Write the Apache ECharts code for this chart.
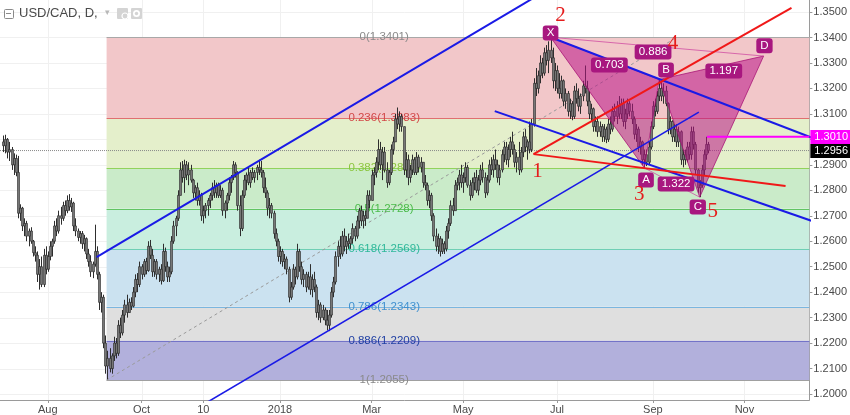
<!DOCTYPE html>
<html><head><meta charset="utf-8">
<script src="https://cdn.jsdelivr.net/npm/echarts@6/dist/echarts.min.js"></script>
<style>html,body{margin:0;padding:0;background:#fff}#c{width:850px;height:415px}</style>
</head><body><div id="c"></div><script>
// ---- DATA (bar index 0 = 1 Aug 2017, daily bars) ----
const firstIndex = -21;
const opens = [
1.2990,1.2975,1.3000,1.2950,1.2960,1.2900,1.2925,1.2870,1.2710,1.2730,
1.2660,1.2670,1.2620,1.2640,1.2600,1.2555,1.2545,1.2470,1.2500,1.2430,
1.2545,1.2490,1.2540,1.2580,1.2600,1.2660,1.2640,1.2700,1.2690,1.2740,
1.2720,1.2760,1.2735,1.2750,1.2660,1.2640,1.2615,1.2630,1.2590,1.2610,
1.2550,1.2520,1.2480,1.2510,1.2560,1.2470,1.2360,1.2380,1.2200,1.2110,
1.2140,1.2100,1.2150,1.2200,1.2160,1.2270,1.2240,1.2310,1.2350,1.2320,
1.2360,1.2345,1.2400,1.2450,1.2430,1.2500,1.2470,1.2520,1.2485,1.2580,
1.2545,1.2480,1.2520,1.2470,1.2490,1.2445,1.2560,1.2500,1.2460,1.2480,
1.2600,1.2660,1.2690,1.2780,1.2880,1.2850,1.2900,1.2860,1.2880,1.2840,
1.2790,1.2810,1.2760,1.2780,1.2700,1.2720,1.2740,1.2760,1.2780,1.2810,
1.2790,1.2820,1.2780,1.2800,1.2720,1.2750,1.2780,1.2830,1.2850,1.2900,
1.2870,1.2740,1.2650,1.2780,1.2840,1.2860,1.2830,1.2870,1.2850,1.2870,
1.2890,1.2880,1.2870,1.2810,1.2790,1.2730,1.2740,1.2710,1.2630,1.2600,
1.2540,1.2560,1.2520,1.2530,1.2490,1.2380,1.2420,1.2490,1.2460,1.2560,
1.2500,1.2450,1.2470,1.2420,1.2460,1.2410,1.2450,1.2420,1.2320,1.2350,
1.2300,1.2330,1.2290,1.2270,1.2310,1.2400,1.2440,1.2540,1.2580,1.2550,
1.2620,1.2580,1.2600,1.2590,1.2610,1.2650,1.2620,1.2680,1.2720,1.2680,
1.2700,1.2690,1.2780,1.2760,1.2860,1.2870,1.2910,1.2960,1.2900,1.2950,
1.2880,1.2830,1.2870,1.2960,1.2990,1.3080,1.3060,1.3090,1.3050,1.2880,
1.2920,1.2850,1.2880,1.2920,1.2870,1.2930,1.2890,1.2910,1.2830,1.2820,
1.2760,1.2780,1.2700,1.2620,1.2580,1.2610,1.2560,1.2590,1.2570,1.2640,
1.2670,1.2740,1.2720,1.2820,1.2830,1.2860,1.2830,1.2850,1.2890,1.2820,
1.2780,1.2830,1.2850,1.2800,1.2840,1.2880,1.2850,1.2790,1.2840,1.2900,
1.2880,1.2920,1.2900,1.2850,1.2880,1.2940,1.2970,1.2920,1.2960,1.2990,
1.2960,1.2910,1.2930,1.2880,1.2950,1.3010,1.2970,1.2990,1.2960,1.3060,
1.3220,1.3200,1.3250,1.3300,1.3260,1.3340,1.3310,1.3350,1.3320,1.3230,
1.3270,1.3200,1.3180,1.3230,1.3150,1.3180,1.3110,1.3140,1.3090,1.3190,
1.3160,1.3130,1.3170,1.3210,1.3200,1.3150,1.3100,1.3120,1.3050,1.3070,
1.3030,1.3050,1.3010,1.3040,1.3000,1.3060,1.3040,1.3110,1.3090,1.3130,
1.3100,1.3140,1.3070,1.3100,1.3140,1.3110,1.3080,1.3020,1.3040,1.2970,
1.2990,1.2920,1.2940,1.2910,1.2970,1.3050,1.3130,1.3110,1.3170,1.3200,
1.3170,1.3190,1.3140,1.3040,1.3070,1.3010,1.3040,1.2990,1.3030,1.2920,
1.2940,1.2920,1.2970,1.2940,1.3030,1.2980,1.2880,1.2810,1.2820,1.2880,
1.2940,1.2980];
const highs = [
1.3015,1.3018,1.3005,1.2990,1.2970,1.2945,1.2940,1.2935,1.2745,1.2735,
1.2690,1.2680,1.2650,1.2655,1.2605,1.2580,1.2560,1.2530,1.2540,1.2570,
1.2580,1.2560,1.2600,1.2610,1.2680,1.2690,1.2720,1.2735,1.2755,1.2760,
1.2780,1.2785,1.2770,1.2755,1.2690,1.2650,1.2640,1.2640,1.2625,1.2615,
1.2570,1.2545,1.2520,1.2665,1.2580,1.2480,1.2400,1.2390,1.2230,1.2170,
1.2180,1.2160,1.2225,1.2220,1.2290,1.2300,1.2330,1.2370,1.2390,1.2375,
1.2380,1.2420,1.2470,1.2475,1.2520,1.2510,1.2530,1.2535,1.2600,1.2605,
1.2570,1.2530,1.2530,1.2500,1.2510,1.2590,1.2575,1.2520,1.2500,1.2620,
1.2680,1.2700,1.2800,1.2910,1.2915,1.2920,1.2915,1.2910,1.2900,1.2845,
1.2820,1.2830,1.2800,1.2790,1.2740,1.2750,1.2770,1.2790,1.2830,1.2840,
1.2830,1.2830,1.2820,1.2810,1.2760,1.2790,1.2850,1.2860,1.2915,1.2910,
1.2875,1.2780,1.2800,1.2860,1.2870,1.2890,1.2880,1.2890,1.2880,1.2900,
1.2920,1.2915,1.2880,1.2850,1.2800,1.2770,1.2750,1.2720,1.2650,1.2610,
1.2580,1.2570,1.2550,1.2540,1.2500,1.2440,1.2510,1.2500,1.2590,1.2570,
1.2520,1.2490,1.2480,1.2480,1.2510,1.2470,1.2480,1.2430,1.2370,1.2360,
1.2350,1.2340,1.2330,1.2330,1.2420,1.2460,1.2560,1.2600,1.2620,1.2640,
1.2650,1.2620,1.2630,1.2620,1.2670,1.2660,1.2700,1.2730,1.2740,1.2720,
1.2720,1.2800,1.2800,1.2880,1.2890,1.2930,1.3000,1.2990,1.2970,1.2970,
1.2910,1.2880,1.2980,1.3010,1.3100,1.3125,1.3110,1.3100,1.3050,1.2950,
1.2940,1.2900,1.2940,1.2930,1.2950,1.2940,1.2930,1.2910,1.2860,1.2830,
1.2800,1.2790,1.2710,1.2650,1.2630,1.2620,1.2610,1.2600,1.2660,1.2690,
1.2760,1.2770,1.2840,1.2850,1.2880,1.2900,1.2870,1.2910,1.2900,1.2840,
1.2850,1.2870,1.2880,1.2860,1.2900,1.2910,1.2870,1.2860,1.2920,1.2930,
1.2940,1.2960,1.2920,1.2900,1.2960,1.2990,1.2990,1.2980,1.3010,1.3030,
1.2980,1.2950,1.2990,1.2970,1.3030,1.3040,1.3000,1.3070,1.3080,1.3240,
1.3280,1.3270,1.3330,1.3320,1.3360,1.3370,1.3385,1.3401,1.3360,1.3300,
1.3290,1.3260,1.3250,1.3235,1.3200,1.3190,1.3160,1.3150,1.3210,1.3220,
1.3200,1.3180,1.3230,1.3290,1.3230,1.3190,1.3140,1.3125,1.3090,1.3090,
1.3070,1.3060,1.3060,1.3050,1.3080,1.3090,1.3130,1.3140,1.3150,1.3170,
1.3160,1.3160,1.3120,1.3160,1.3150,1.3140,1.3090,1.3060,1.3050,1.3010,
1.2995,1.2960,1.2960,1.2990,1.3070,1.3150,1.3160,1.3190,1.3235,1.3230,
1.3220,1.3210,1.3145,1.3090,1.3075,1.3060,1.3060,1.3050,1.3035,1.2960,
1.2960,1.2990,1.2990,1.3050,1.3050,1.2990,1.2885,1.2840,1.2900,1.2960,
1.3010,1.2990];
const lows = [
1.2950,1.2945,1.2925,1.2915,1.2880,1.2860,1.2855,1.2690,1.2680,1.2640,
1.2620,1.2600,1.2580,1.2590,1.2540,1.2520,1.2440,1.2410,1.2420,1.2420,
1.2470,1.2480,1.2525,1.2540,1.2590,1.2620,1.2630,1.2665,1.2680,1.2700,
1.2710,1.2720,1.2715,1.2640,1.2620,1.2600,1.2590,1.2570,1.2560,1.2530,
1.2500,1.2460,1.2455,1.2500,1.2450,1.2330,1.2320,1.2180,1.2080,1.2058,
1.2085,1.2080,1.2130,1.2140,1.2150,1.2220,1.2230,1.2280,1.2300,1.2320,
1.2330,1.2340,1.2380,1.2400,1.2420,1.2450,1.2460,1.2470,1.2480,1.2530,
1.2460,1.2460,1.2450,1.2440,1.2430,1.2440,1.2480,1.2440,1.2440,1.2470,
1.2590,1.2620,1.2680,1.2780,1.2830,1.2790,1.2840,1.2820,1.2830,1.2770,
1.2760,1.2740,1.2740,1.2680,1.2670,1.2690,1.2700,1.2730,1.2760,1.2770,
1.2770,1.2770,1.2770,1.2700,1.2690,1.2720,1.2760,1.2790,1.2840,1.2850,
1.2720,1.2620,1.2640,1.2770,1.2800,1.2820,1.2810,1.2840,1.2830,1.2840,
1.2860,1.2850,1.2790,1.2770,1.2700,1.2690,1.2690,1.2610,1.2580,1.2520,
1.2510,1.2500,1.2490,1.2470,1.2360,1.2370,1.2410,1.2430,1.2450,1.2480,
1.2430,1.2420,1.2400,1.2410,1.2390,1.2380,1.2400,1.2300,1.2290,1.2280,
1.2290,1.2270,1.2250,1.2247,1.2300,1.2380,1.2430,1.2500,1.2530,1.2540,
1.2560,1.2550,1.2570,1.2570,1.2590,1.2600,1.2610,1.2650,1.2660,1.2650,
1.2660,1.2690,1.2730,1.2760,1.2820,1.2850,1.2880,1.2880,1.2840,1.2870,
1.2810,1.2820,1.2860,1.2940,1.2990,1.3040,1.3030,1.3030,1.2860,1.2850,
1.2820,1.2830,1.2860,1.2860,1.2860,1.2870,1.2870,1.2810,1.2800,1.2740,
1.2730,1.2680,1.2600,1.2560,1.2550,1.2540,1.2550,1.2550,1.2560,1.2610,
1.2660,1.2700,1.2720,1.2800,1.2800,1.2810,1.2790,1.2830,1.2810,1.2760,
1.2770,1.2800,1.2790,1.2780,1.2820,1.2830,1.2770,1.2780,1.2830,1.2860,
1.2850,1.2880,1.2830,1.2820,1.2870,1.2910,1.2900,1.2890,1.2930,1.2940,
1.2890,1.2870,1.2860,1.2870,1.2930,1.2950,1.2920,1.2945,1.2950,1.3050,
1.3170,1.3180,1.3220,1.3240,1.3250,1.3290,1.3260,1.3300,1.3200,1.3190,
1.3180,1.3160,1.3160,1.3130,1.3120,1.3090,1.3080,1.3075,1.3080,1.3140,
1.3110,1.3100,1.3150,1.3180,1.3130,1.3080,1.3070,1.3030,1.3030,1.3010,
1.3010,1.2990,1.2990,1.2985,1.2990,1.3020,1.3030,1.3070,1.3060,1.3080,
1.3080,1.3050,1.3040,1.3080,1.3090,1.3060,1.3000,1.2990,1.2950,1.2940,
1.2900,1.2888,1.2895,1.2900,1.2960,1.3040,1.3090,1.3100,1.3150,1.3150,
1.3140,1.3130,1.3020,1.3020,1.2990,1.2990,1.2970,1.2970,1.2900,1.2890,
1.2900,1.2910,1.2920,1.2920,1.2960,1.2860,1.2790,1.2773,1.2810,1.2860,
1.2920,1.2945];
const closes = [
1.2975,1.3000,1.2950,1.2960,1.2900,1.2925,1.2870,1.2710,1.2730,1.2660,
1.2670,1.2620,1.2640,1.2600,1.2555,1.2545,1.2470,1.2500,1.2430,1.2545,
1.2490,1.2540,1.2580,1.2600,1.2660,1.2640,1.2700,1.2690,1.2740,1.2720,
1.2760,1.2735,1.2750,1.2660,1.2640,1.2615,1.2630,1.2590,1.2610,1.2550,
1.2520,1.2480,1.2510,1.2560,1.2470,1.2360,1.2380,1.2200,1.2110,1.2140,
1.2100,1.2150,1.2200,1.2160,1.2270,1.2240,1.2310,1.2350,1.2320,1.2360,
1.2345,1.2400,1.2450,1.2430,1.2500,1.2470,1.2520,1.2485,1.2580,1.2545,
1.2480,1.2520,1.2470,1.2490,1.2445,1.2560,1.2500,1.2460,1.2480,1.2600,
1.2660,1.2690,1.2780,1.2880,1.2850,1.2900,1.2860,1.2880,1.2840,1.2790,
1.2810,1.2760,1.2780,1.2700,1.2720,1.2740,1.2760,1.2780,1.2810,1.2790,
1.2820,1.2780,1.2800,1.2720,1.2750,1.2780,1.2830,1.2850,1.2900,1.2870,
1.2740,1.2650,1.2780,1.2840,1.2860,1.2830,1.2870,1.2850,1.2870,1.2890,
1.2880,1.2870,1.2810,1.2790,1.2730,1.2740,1.2710,1.2630,1.2600,1.2540,
1.2560,1.2520,1.2530,1.2490,1.2380,1.2420,1.2490,1.2460,1.2560,1.2500,
1.2450,1.2470,1.2420,1.2460,1.2410,1.2450,1.2420,1.2320,1.2350,1.2300,
1.2330,1.2290,1.2270,1.2310,1.2400,1.2440,1.2540,1.2580,1.2550,1.2620,
1.2580,1.2600,1.2590,1.2610,1.2650,1.2620,1.2680,1.2720,1.2680,1.2700,
1.2690,1.2780,1.2760,1.2860,1.2870,1.2910,1.2960,1.2900,1.2950,1.2880,
1.2830,1.2870,1.2960,1.2990,1.3080,1.3060,1.3090,1.3050,1.2880,1.2920,
1.2850,1.2880,1.2920,1.2870,1.2930,1.2890,1.2910,1.2830,1.2820,1.2760,
1.2780,1.2700,1.2620,1.2580,1.2610,1.2560,1.2590,1.2570,1.2640,1.2670,
1.2740,1.2720,1.2820,1.2830,1.2860,1.2830,1.2850,1.2890,1.2820,1.2780,
1.2830,1.2850,1.2800,1.2840,1.2880,1.2850,1.2790,1.2840,1.2900,1.2880,
1.2920,1.2900,1.2850,1.2880,1.2940,1.2970,1.2920,1.2960,1.2990,1.2960,
1.2910,1.2930,1.2880,1.2950,1.3010,1.2970,1.2990,1.2960,1.3060,1.3220,
1.3200,1.3250,1.3300,1.3260,1.3340,1.3310,1.3350,1.3320,1.3230,1.3270,
1.3200,1.3180,1.3230,1.3150,1.3180,1.3110,1.3140,1.3090,1.3190,1.3160,
1.3130,1.3170,1.3210,1.3200,1.3150,1.3100,1.3120,1.3050,1.3070,1.3030,
1.3050,1.3010,1.3040,1.3000,1.3060,1.3040,1.3110,1.3090,1.3130,1.3100,
1.3140,1.3070,1.3100,1.3140,1.3110,1.3080,1.3020,1.3040,1.2970,1.2990,
1.2920,1.2940,1.2910,1.2970,1.3050,1.3130,1.3110,1.3170,1.3200,1.3170,
1.3190,1.3140,1.3040,1.3070,1.3010,1.3040,1.2990,1.3030,1.2920,1.2940,
1.2920,1.2970,1.2940,1.3030,1.2980,1.2880,1.2810,1.2820,1.2880,1.2940,
1.2980,1.2956];

const xTickIdx = [0, 44, 73, 109, 152, 195, 239, 284, 327];
const xTickLabels = ['Aug', 'Oct', '10', '2018', 'Mar', 'May', 'Jul', 'Sep', 'Nov'];
const yTicks = [1.20,1.21,1.22,1.23,1.24,1.25,1.26,1.27,1.28,1.29,1.30,1.31,1.32,1.33,1.34,1.35];

const fibRatios = ['0', '0.236', '0.382', '0.5', '0.618', '0.786', '0.886', '1'];
const fibPrices = [1.3401, 1.3083, 1.2887, 1.2728, 1.2569, 1.2343, 1.2209, 1.2055];
const fibStart = 27.6;
const fibTrend = [[27.6, 1.2055], [295.3, 1.3401]];

const harmNames = ['X', 'A', 'B', 'C', 'D'];
const harmIdx = [236, 280, 287, 306, 336];
const harmPrice = [1.3401, 1.2888, 1.3235, 1.2773, 1.3327];
const harmLabelIdx = [236, 280.8, 290.2, 305.1, 336.4];
const harmLabelPrice = [1.3418, 1.2840, 1.3272, 1.2734, 1.3367];
const ratioText = ['0.703', '0.886', '1.197', '1.322'];
const ratioIdx = [263.6, 284.1, 317.3, 294.9];
const ratioPrice = [1.3292, 1.3343, 1.3268, 1.2825];

const waveText = ['1', '2', '3', '4', '5'];
const waveIdx = [229.9, 240.7, 277.6, 293.5, 312.1];
const wavePrice = [1.2872, 1.3488, 1.2782, 1.3378, 1.2715];

const blueLines = [
  [[22.9, 1.2538], [232.2, 1.3576]],
  [[71.0, 1.1949], [305.6, 1.3107]],
  [[209.8, 1.3111], [360.7, 1.2674]],
  [[236, 1.3401], [360.7, 1.3000]]
];
const redLines = [
  [[228.0, 1.2942], [349.1, 1.3516]],
  [[228.0, 1.2942], [346.3, 1.2817]]
];
const lastPrice = 1.2956;
const levelPrice = 1.3010;
const levelStart = 309.4;

// ---- VIEW ----
const X_MIN = -22.43, X_MAX = 357.47, Y_MIN = 1.197664, Y_MAX = 1.354711;
const FONT = '"Liberation Sans", Arial, Helvetica, sans-serif';

const bars = opens.map((o, k) => [firstIndex + k, o, highs[k], lows[k], closes[k]]);

const fibFill = ['#f2c7c9', '#e4efcb', '#caebc9', '#c9eedf', '#cbe2f0', '#dfdfdf', '#b2b0dc'];
const fibLine = ['#a8a8a8', '#e07070', '#92d25c', '#62c462', '#6fcfb4', '#7ab6df', '#7373c8', '#a0a0a0'];
const fibText = ['#8a8a8a', '#d24848', '#8cc63f', '#4cbb4c', '#2fb89a', '#3f90cf', '#1f3fa3', '#8a8a8a'];
const fibLabelIdx = 157.9;

function lineSeries(pts, color, width, type, z) {
  return {type: 'line', data: pts, symbol: 'none', silent: true, animation: false, z: z,
    clip: true, lineStyle: {color: color, width: width, type: type || 'solid'}};
}

const series = [];
// grid lines
series.push({type: 'custom', z: 0, silent: true, clip: true, animation: false,
  data: yTicks.map(v => [X_MIN, v]),
  renderItem: (p, api) => {
    const a = api.coord([X_MIN, api.value(1)]), b = api.coord([X_MAX, api.value(1)]);
    const y = Math.round(a[1]) + 0.5;
    return {type: 'line', shape: {x1: a[0], y1: y, x2: b[0], y2: y}, style: {stroke: '#f0f0f0', lineWidth: 1}};
  }});
series.push({type: 'custom', z: 0, silent: true, clip: true, animation: false,
  data: xTickIdx.map(v => [v, Y_MIN]),
  renderItem: (p, api) => {
    const a = api.coord([api.value(0), Y_MIN]), b = api.coord([api.value(0), Y_MAX]);
    const x = Math.round(a[0]) + 0.5;
    return {type: 'line', shape: {x1: x, y1: a[1], x2: x, y2: b[1]}, style: {stroke: '#f0f0f0', lineWidth: 1}};
  }});
// fib retracement
series.push({type: 'custom', z: 1, silent: true, clip: true, animation: false,
  data: fibPrices.map((v, k) => [fibStart, v, k]),
  renderItem: (p, api) => {
    const k = api.value(2);
    const children = [];
    const a = api.coord([fibStart, fibPrices[k]]);
    const r = api.coord([X_MAX, fibPrices[k]]);
    if (k < fibPrices.length - 1) {
      const b = api.coord([X_MAX, fibPrices[k + 1]]);
      children.push({type: 'rect', shape: {x: a[0], y: a[1], width: b[0] - a[0], height: b[1] - a[1]},
        style: {fill: fibFill[k]}});
    }
    const y = Math.round(a[1]) + 0.5;
    children.push({type: 'line', shape: {x1: a[0], y1: y, x2: r[0], y2: y}, style: {stroke: fibLine[k], lineWidth: 1}});
    const t = api.coord([fibLabelIdx, fibPrices[k]]);
    children.push({type: 'text', x: t[0], y: t[1], z2: 5, style: {text: fibRatios[k] + '(' + fibPrices[k].toFixed(4) + ')',
      fill: fibText[k], font: '11.5px ' + FONT, align: 'center', verticalAlign: 'middle'}});
    return {type: 'group', children: children};
  }});
series.push(lineSeries(fibTrend, '#9a9a9a', 1, [3, 3], 2));
series.push(lineSeries([[X_MIN, lastPrice], [X_MAX, lastPrice]], '#8a8a8a', 1, [1, 1], 2));
// OHLC bars
series.push({type: 'custom', z: 3, silent: true, clip: true, animation: false, data: bars,
  renderItem: (p, api) => {
    const i = api.value(0);
    const pO = api.coord([i, api.value(1)]), pH = api.coord([i, api.value(2)]);
    const pL = api.coord([i, api.value(3)]), pC = api.coord([i, api.value(4)]);
    const x = Math.round(pO[0]);
    const top = Math.min(pO[1], pC[1]);
    const h = Math.max(Math.abs(pO[1] - pC[1]), 1);
    return {type: 'group', children: [
      {type: 'line', shape: {x1: x + 0.5, y1: pH[1], x2: x + 0.5, y2: pL[1]}, style: {stroke: '#2e2e2e', lineWidth: 1}},
      {type: 'rect', shape: {x: x - 0.5, y: top, width: 2, height: h}, style: {fill: '#777777', stroke: '#262626', lineWidth: 0.6}}
    ]};
  }});
// harmonic triangles
series.push({type: 'custom', z: 4, silent: true, clip: true, animation: false,
  data: [[harmIdx[0], harmPrice[0], 0], [harmIdx[2], harmPrice[2], 2]],
  renderItem: (p, api) => {
    const s = api.value(2);
    const pts = [s, s + 1, s + 2].map(k => api.coord([harmIdx[k], harmPrice[k]]));
    return {type: 'polygon', shape: {points: pts},
      style: {fill: 'rgba(185,20,135,0.55)', stroke: 'rgba(165,15,115,0.75)', lineWidth: 1}};
  }});
series.push(lineSeries([[harmIdx[0], harmPrice[0]], [harmIdx[4], harmPrice[4]]], 'rgba(205,70,160,0.75)', 1, 'solid', 4));
series.push(lineSeries([[harmIdx[1], harmPrice[1]], [harmIdx[3], harmPrice[3]]], 'rgba(205,70,160,0.75)', 1, 'solid', 4));
// trend lines
blueLines.forEach((l, k) => series.push(lineSeries(l, '#1a1ae6', k === 1 ? 1.6 : 2, 'solid', 5)));
redLines.forEach(l => series.push(lineSeries(l, '#f01818', 2, 'solid', 5)));
series.push(lineSeries([[levelStart, levelPrice], [X_MAX, levelPrice]], '#ff00ff', 2, 'solid', 5));
// harmonic point labels and ratios
const tagStyle = (txt) => ({text: txt, fill: '#ffffff', font: '11.5px ' + FONT, align: 'center', verticalAlign: 'middle',
  backgroundColor: '#a8177f', padding: [2, 4, 1, 4], borderRadius: 3});
series.push({type: 'custom', z: 6, silent: true, clip: false, animation: false,
  data: harmLabelIdx.map((v, k) => [v, harmLabelPrice[k], k]),
  renderItem: (p, api) => {
    const c = api.coord([api.value(0), api.value(1)]);
    return {type: 'text', x: c[0], y: c[1], style: tagStyle(harmNames[api.value(2)])};
  }});
series.push({type: 'custom', z: 6, silent: true, clip: false, animation: false,
  data: ratioIdx.map((v, k) => [v, ratioPrice[k], k]),
  renderItem: (p, api) => {
    const c = api.coord([api.value(0), api.value(1)]);
    return {type: 'text', x: c[0], y: c[1], style: tagStyle(ratioText[api.value(2)])};
  }});
series.push({type: 'custom', z: 6, silent: true, clip: false, animation: false,
  data: waveIdx.map((v, k) => [v, wavePrice[k], k]),
  renderItem: (p, api) => {
    const c = api.coord([api.value(0), api.value(1)]);
    return {type: 'text', x: c[0], y: c[1], style: {text: waveText[api.value(2)], fill: '#e51c1c',
      font: '21px "Liberation Serif", "DejaVu Serif", serif', align: 'center', verticalAlign: 'middle'}};
  }});
// price tags on the axis
const tagPrices = [levelPrice, lastPrice];
const tagColors = ['#ff00ff', '#000000'];
series.push({type: 'custom', z: 20, silent: true, clip: false, animation: false,
  data: tagPrices.map((v, k) => [X_MAX, v, k]),
  renderItem: (p, api) => {
    const k = api.value(2);
    const c = api.coord([X_MAX, api.value(1)]);
    return {type: 'group', children: [
      {type: 'rect', shape: {x: c[0] + 1, y: Math.round(c[1]) - 7, width: 40, height: 14}, style: {fill: tagColors[k]}},
      {type: 'text', x: c[0] + 5, y: Math.round(c[1]), style: {text: tagPrices[k].toFixed(4), fill: '#fff',
        font: '11px ' + FONT, align: 'left', verticalAlign: 'middle'}}
    ]};
  }});

const chart = echarts.init(document.getElementById('c'), null, {renderer: 'canvas'});
chart.setOption({
  animation: false,
  backgroundColor: '#ffffff',
  grid: {left: 0, right: 37, top: 0, bottom: 15},
  xAxis: {
    type: 'value', min: X_MIN, max: X_MAX, position: 'bottom',
    axisLine: {show: true, onZero: false, lineStyle: {color: '#9a9a9a'}},
    axisTick: {show: true, length: 3, customValues: xTickIdx, lineStyle: {color: '#9a9a9a'}},
    axisLabel: {customValues: xTickIdx, margin: 4, color: '#4a4a4a', fontSize: 11, fontFamily: FONT,
      formatter: v => xTickLabels[xTickIdx.indexOf(v)] || ''},
    splitLine: {show: false}
  },
  yAxis: {
    type: 'value', min: Y_MIN, max: Y_MAX, position: 'right', scale: true,
    axisLine: {show: true, onZero: false, lineStyle: {color: '#9a9a9a'}},
    axisTick: {show: true, length: 3, customValues: yTicks, lineStyle: {color: '#9a9a9a'}},
    axisLabel: {customValues: yTicks, margin: 4, color: '#4a4a4a', fontSize: 11, fontFamily: FONT,
      formatter: v => v.toFixed(4)},
    splitLine: {show: false}
  },
  graphic: [
    {type: 'rect', left: 4, top: 9, shape: {width: 9, height: 9, r: 1}, style: {fill: '#fff', stroke: '#8a8a8a', lineWidth: 1}, z: 50},
    {type: 'rect', left: 6, top: 13, shape: {width: 5, height: 1}, style: {fill: '#8a8a8a'}, z: 51},
    {type: 'text', left: 19, top: 7, style: {text: 'USD/CAD, D,', fill: '#4a4a4a', font: '13px ' + FONT}, z: 50},
    {type: 'text', left: 105, top: 8, style: {text: '▾', fill: '#b8b8b8', font: '9px ' + FONT}, z: 50},
    {type: 'rect', left: 117, top: 8, shape: {width: 11, height: 11, r: 1}, style: {fill: '#d4d4d4'}, z: 50},
    {type: 'circle', left: 119.5, top: 10.5, shape: {r: 3}, style: {fill: 'none', stroke: '#fff', lineWidth: 1.2}, z: 51},
    {type: 'rect', left: 131, top: 8, shape: {width: 11, height: 11, r: 1}, style: {fill: '#d4d4d4'}, z: 50},
    {type: 'circle', left: 133, top: 10, shape: {r: 3.5}, style: {fill: '#fff'}, z: 51},
    {type: 'circle', left: 134.8, top: 11.8, shape: {r: 1.7}, style: {fill: '#d4d4d4'}, z: 52}
  ],
  series: series
});
</script></body></html>
